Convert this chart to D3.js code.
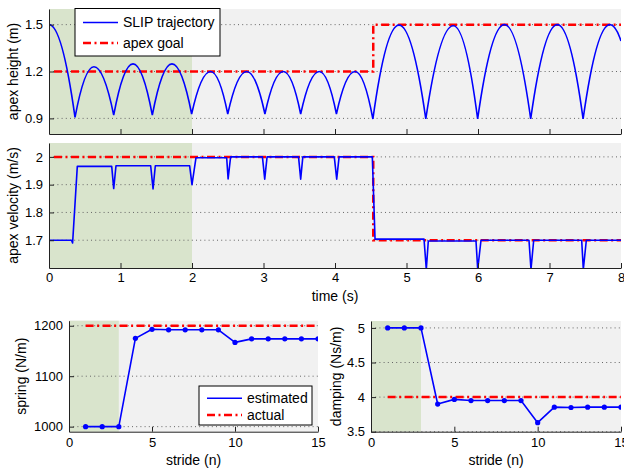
<!DOCTYPE html>
<html>
<head>
<meta charset="utf-8">
<script src="https://cdn.jsdelivr.net/npm/d3@7"></script>
<style>
    body { margin: 0; background: #fff; }
    svg text { font-family: "Liberation Sans", Arial, sans-serif; fill: #000; }
</style>
</head>
<body>
<svg id="chart" width="624" height="469"></svg>
<script>
// apex height: alternating apex / bottom points of the SLIP trajectory
const heightTime = [0, 0.364, 0.629, 0.905, 1.175, 1.445, 1.72, 1.995, 2.26, 2.5, 2.765, 3.02,
    3.277, 3.52, 3.78, 4.02, 4.28, 4.53, 4.895, 5.27, 5.655, 5.995, 6.37, 6.737, 7.11, 7.47, 7.846, 8.0];
const heightValue = [1.5, 0.906, 1.23, 0.921, 1.249, 0.921, 1.249, 0.928, 1.2, 0.928, 1.2, 0.928,
    1.2, 0.928, 1.2, 0.928, 1.2, 0.896, 1.497, 0.896, 1.493, 0.896, 1.5, 0.896, 1.5, 0.896, 1.5, 1.396];
const heightGoalTime = [0.07, 4.535, 4.535, 8];
const heightGoalValue = [1.2, 1.2, 1.5, 1.5];

const velocityTime = [0, 0.315, 0.33, 0.396, 0.877, 0.905, 0.937, 1.422, 1.455, 1.487, 1.967, 2.0, 2.056,
    2.485, 2.505, 2.54, 2.985, 3.017, 3.05, 3.49, 3.52, 3.55, 3.99, 4.024, 4.057, 4.522, 4.56,
    5.245, 5.277, 5.305, 5.972, 5.996, 6.042, 6.713, 6.741, 6.779, 7.45, 7.473, 7.515, 8];
const velocityValue = [1.7, 1.7, 1.69, 1.966, 1.966, 1.886, 1.968, 1.968, 1.885, 1.968, 1.968, 1.9, 1.997,
    1.997, 1.921, 2.0, 2.0, 1.92, 2.0, 2.0, 1.92, 2.0, 2.0, 1.92, 2.0, 2.0, 1.704,
    1.704, 1.595, 1.697, 1.697, 1.595, 1.7, 1.7, 1.595, 1.7, 1.7, 1.595, 1.7, 1.7];
const velocityGoalTime = [0.07, 4.535, 4.535, 8];
const velocityGoalValue = [2, 2, 1.7, 1.7];

const strides = [1, 2, 3, 4, 5, 6, 7, 8, 9, 10, 11, 12, 13, 14, 15];
const springEstimated = [1000, 1000, 1000, 1175, 1193, 1192, 1192, 1192, 1192, 1167, 1174, 1174, 1174, 1174, 1174];
const springActual = [1200, 1200, 1200, 1200, 1200, 1200, 1200, 1200, 1200, 1200, 1200, 1200, 1200, 1200, 1200];
const dampingEstimated = [5, 5, 5, 3.9, 3.967, 3.95, 3.95, 3.95, 3.95, 3.63, 3.855, 3.85, 3.855, 3.855, 3.855];
const dampingActual = [4, 4, 4, 4, 4, 4, 4, 4, 4, 4, 4, 4, 4, 4, 4];

const timeTicks = [0, 1, 2, 3, 4, 5, 6, 7, 8];
const heightTicks = [0.9, 1.2, 1.5];
const velocityTicks = [1.7, 1.8, 1.9, 2];
const strideTicks = [0, 5, 10, 15];
const springTicks = [1000, 1100, 1200];
const dampingTicks = [3.5, 4, 4.5, 5];

const learnTime = 2;      // shaded learning phase, seconds
const learnStrides = 3;   // shaded learning phase, strides

const svg = d3.select("#chart");
let clipId = 0;

function panel(opt) {
    const x = d3.scaleLinear().domain(opt.xDomain).range([opt.left, opt.right]);
    const y = d3.scaleLinear().domain(opt.yDomain).range([opt.bottom, opt.top]);
    const g = svg.append("g");

    g.append("rect")
        .attr("x", opt.left).attr("y", opt.top)
        .attr("width", opt.right - opt.left).attr("height", opt.bottom - opt.top)
        .attr("fill", "#f1f1f1");
    g.append("rect")
        .attr("x", x(0)).attr("y", opt.top)
        .attr("width", x(opt.shade) - x(0)).attr("height", opt.bottom - opt.top)
        .attr("fill", "#d9e4cc");

    g.selectAll("line.grid")
        .data(opt.yTicks)
        .join("line")
        .attr("class", "grid")
        .attr("x1", opt.left).attr("x2", opt.right)
        .attr("y1", d => y(d)).attr("y2", d => y(d))
        .attr("stroke", "#666")
        .attr("stroke-dasharray", "1,3.2");

    const id = "clip" + (clipId++);
    g.append("clipPath").attr("id", id)
        .append("rect")
        .attr("x", opt.left).attr("y", opt.top)
        .attr("width", opt.right - opt.left).attr("height", opt.bottom - opt.top);
    const plot = g.append("g").attr("clip-path", "url(#" + id + ")");

    const xAxis = d3.axisBottom(x)
        .tickValues(opt.xTicks)
        .tickSizeInner(-5).tickSizeOuter(0)
        .tickPadding(opt.xPad);
    if (!opt.xLabels) xAxis.tickFormat("");
    const yAxis = d3.axisLeft(y)
        .tickValues(opt.yTicks)
        .tickSizeInner(-5).tickSizeOuter(0)
        .tickPadding(6)
        .tickFormat(d3.format(opt.yFormat));

    const ax = g.append("g")
        .attr("transform", "translate(0," + opt.bottom + ")")
        .call(xAxis);
    const ay = g.append("g")
        .attr("transform", "translate(" + opt.left + ",0)")
        .call(yAxis);
    [ax, ay].forEach(a => {
        a.selectAll("path, line").attr("stroke", "#222");
        a.selectAll("text").attr("font-size", 13).attr("font-family", '"Liberation Sans", Arial, sans-serif');
    });

    g.append("text")
        .attr("transform", "translate(" + opt.yLabelX + "," + ((opt.top + opt.bottom) / 2) + ") rotate(-90)")
        .attr("text-anchor", "middle")
        .attr("dy", "0.35em")
        .attr("font-size", 14)
        .text(opt.yLabel);
    if (opt.xLabel) {
        g.append("text")
            .attr("x", (opt.left + opt.right) / 2)
            .attr("y", opt.xLabelY)
            .attr("text-anchor", "middle")
            .attr("dy", "0.35em")
            .attr("font-size", 14)
            .text(opt.xLabel);
    }
    return { x: x, y: y, g: g, plot: plot };
}

function goalLine(p, xs, ys) {
    const line = d3.line().x((d, i) => p.x(xs[i])).y(d => p.y(d));
    p.plot.append("path")
        .attr("d", line(ys))
        .attr("fill", "none")
        .attr("stroke", "#ff0000")
        .attr("stroke-width", 2.5)
        .attr("stroke-dasharray", "8,3.5,2,3.5");
}

function blueLine(p, xs, ys) {
    const line = d3.line().x((d, i) => p.x(xs[i])).y(d => p.y(d));
    p.plot.append("path")
        .attr("d", line(ys))
        .attr("fill", "none")
        .attr("stroke", "#0000ff")
        .attr("stroke-width", 1.6)
        .attr("stroke-linejoin", "round");
}

// flight phases are parabolas: tangent is flat at each apex, so the
// control point sits at mid time on the apex level
function flightPath(p, ts, hs) {
    const path = d3.path();
    path.moveTo(p.x(ts[0]), p.y(hs[0]));
    for (let i = 1; i < ts.length; i++) {
        const apex = hs[i] > hs[i - 1] ? hs[i] : hs[i - 1];
        path.quadraticCurveTo(p.x((ts[i - 1] + ts[i]) / 2), p.y(apex), p.x(ts[i]), p.y(hs[i]));
    }
    return path.toString();
}

function legend(x0, y0, w, h, items) {
    const lg = svg.append("g").attr("transform", "translate(" + x0 + "," + y0 + ")");
    lg.append("rect")
        .attr("width", w).attr("height", h)
        .attr("fill", "#fff").attr("stroke", "#000").attr("stroke-width", 1);
    items.forEach((it, i) => {
        const yy = it.y;
        const l = lg.append("line")
            .attr("x1", 8).attr("x2", 43)
            .attr("y1", yy).attr("y2", yy)
            .attr("stroke", it.color)
            .attr("stroke-width", it.dash ? 2.5 : 1.6);
        if (it.dash) l.attr("stroke-dasharray", "8,3.5,2,3.5");
        lg.append("text")
            .attr("x", 48).attr("y", yy)
            .attr("dy", "0.35em")
            .attr("font-size", 14)
            .text(it.label);
    });
}

// apex height
const top1 = panel({
    left: 49, right: 621, top: 9, bottom: 134,
    xDomain: [0, 8], yDomain: [0.8, 1.6],
    xTicks: timeTicks, yTicks: heightTicks, yFormat: ".1f",
    xLabels: false, xPad: 5, shade: learnTime,
    yLabel: "apex height (m)", yLabelX: 13
});
goalLine(top1, heightGoalTime, heightGoalValue);
top1.plot.append("path")
    .attr("d", flightPath(top1, heightTime, heightValue))
    .attr("fill", "none")
    .attr("stroke", "#0000ff")
    .attr("stroke-width", 1.6);

// apex velocity
const mid = panel({
    left: 49, right: 621, top: 143, bottom: 268,
    xDomain: [0, 8], yDomain: [1.6, 2.05],
    xTicks: timeTicks, yTicks: velocityTicks, yFormat: ".1~f",
    xLabels: true, xPad: 5, shade: learnTime,
    yLabel: "apex velocity (m/s)", yLabelX: 13,
    xLabel: "time (s)", xLabelY: 296
});
goalLine(mid, velocityGoalTime, velocityGoalValue);
blueLine(mid, velocityTime, velocityValue);

// spring
const spring = panel({
    left: 69, right: 318, top: 320.7, bottom: 431.7,
    xDomain: [0, 15], yDomain: [990, 1210],
    xTicks: strideTicks, yTicks: springTicks, yFormat: "d",
    xLabels: true, xPad: 6, shade: learnStrides,
    yLabel: "spring (N/m)", yLabelX: 21,
    xLabel: "stride (n)", xLabelY: 460
});
goalLine(spring, strides, springActual);
blueLine(spring, strides, springEstimated);
spring.plot.selectAll("circle")
    .data(springEstimated)
    .join("circle")
    .attr("cx", (d, i) => spring.x(strides[i]))
    .attr("cy", d => spring.y(d))
    .attr("r", 2.6)
    .attr("fill", "#0000ff");

// damping
const damping = panel({
    left: 371, right: 621, top: 321, bottom: 431.7,
    xDomain: [0, 15], yDomain: [3.5, 5.1],
    xTicks: strideTicks, yTicks: dampingTicks, yFormat: "~g",
    xLabels: true, xPad: 6, shade: learnStrides,
    yLabel: "damping (Ns/m)", yLabelX: 336,
    xLabel: "stride (n)", xLabelY: 460
});
goalLine(damping, strides, dampingActual);
blueLine(damping, strides, dampingEstimated);
damping.plot.selectAll("circle")
    .data(dampingEstimated)
    .join("circle")
    .attr("cx", (d, i) => damping.x(strides[i]))
    .attr("cy", d => damping.y(d))
    .attr("r", 2.6)
    .attr("fill", "#0000ff");

legend(75, 8.5, 145, 47.5, [
    { label: "SLIP trajectory", color: "#0000ff", y: 14 },
    { label: "apex goal", color: "#ff0000", dash: true, y: 34.5 }
]);
legend(199, 386, 113, 39, [
    { label: "estimated", color: "#0000ff", y: 12.3 },
    { label: "actual", color: "#ff0000", dash: true, y: 29 }
]);
</script>
</body>
</html>
